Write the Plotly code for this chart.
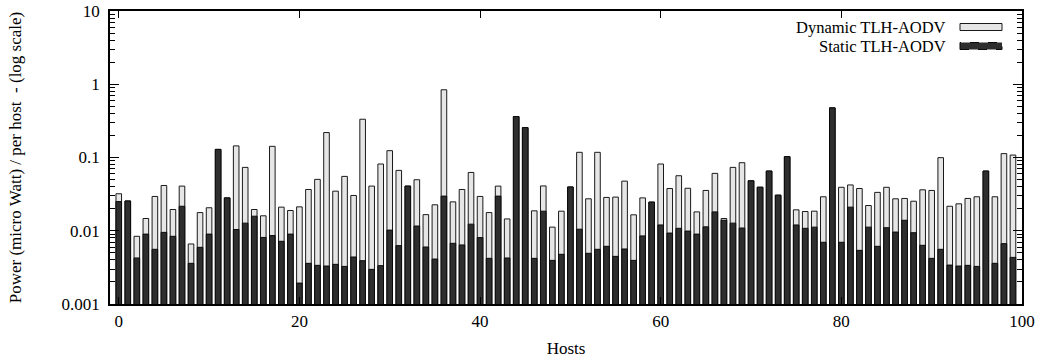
import plotly.graph_objects as go

# Per-host power draw (micro Watt), hosts 0..99
hosts = list(range(100))

dynamic_tlh = [
    0.032, 0.0255, 0.0084, 0.0147, 0.0294, 0.0415, 0.0195, 0.0407, 0.0066, 0.0177,
    0.0206, 0.129, 0.0281, 0.144, 0.0733, 0.0195, 0.0160, 0.142, 0.0210, 0.0189,
    0.0212, 0.0366, 0.0503, 0.219, 0.0347, 0.0552, 0.0303, 0.333, 0.0407, 0.0815,
    0.124, 0.0667, 0.0407, 0.0497, 0.0166, 0.0226, 0.841, 0.0248, 0.0366, 0.0625,
    0.0294, 0.0177, 0.0407, 0.0145, 0.362, 0.256, 0.0187, 0.0409, 0.0112, 0.0185,
    0.0396, 0.1177, 0.0273, 0.1177, 0.0285, 0.0288, 0.0476, 0.0165, 0.0281, 0.0246,
    0.0815, 0.0377, 0.0564, 0.038, 0.0181, 0.0355, 0.0607, 0.0147, 0.0733, 0.0849,
    0.0481, 0.0393, 0.0653, 0.0306, 0.1027, 0.0193, 0.0183, 0.0185, 0.0291, 0.476,
    0.0392, 0.0422, 0.0377, 0.0221, 0.0334, 0.0392, 0.0273, 0.0276, 0.0253, 0.0362,
    0.0355, 0.0995, 0.0216, 0.0233, 0.0276, 0.0291, 0.0653, 0.0291, 0.113, 0.108,
]

static_tlh = [
    0.025, 0.0255, 0.00425, 0.0090, 0.00558, 0.0095, 0.0084, 0.0216, 0.00359, 0.00594,
    0.0090, 0.129, 0.0281, 0.0104, 0.0127, 0.0158, 0.0081, 0.0086, 0.00718, 0.0090,
    0.00193, 0.00359, 0.00337, 0.0033, 0.00348, 0.00326, 0.00438, 0.0039, 0.00297, 0.00334,
    0.0102, 0.00626, 0.0407, 0.0116, 0.0060, 0.00411, 0.0297, 0.00674, 0.0064, 0.0123,
    0.00806, 0.0042, 0.0297, 0.00425, 0.362, 0.256, 0.0042, 0.0185, 0.00394, 0.00477,
    0.0396, 0.0105, 0.00492, 0.00558, 0.00613, 0.00447, 0.00564, 0.00394, 0.0085, 0.0246,
    0.0120, 0.0093, 0.0108, 0.0099, 0.0090, 0.0113, 0.0181, 0.0139, 0.0127, 0.0109,
    0.0481, 0.0393, 0.0653, 0.0306, 0.1027, 0.0120, 0.0108, 0.0112, 0.00696, 0.476,
    0.00696, 0.0210, 0.0054, 0.0112, 0.00613, 0.0110, 0.0096, 0.0139, 0.0094, 0.00633,
    0.0042, 0.00558, 0.0034, 0.0033, 0.00337, 0.00326, 0.0653, 0.00359, 0.00667, 0.00433,
]

x_ticks = [0, 20, 40, 60, 80, 100]
y_ticks = [0.001, 0.01, 0.1, 1, 10]
y_tick_text = ["0.001", "0.01", "0.1", "1", "10"]
y_minor = [m * d for d in (0.001, 0.01, 0.1, 1) for m in range(2, 10)]

series_names = ["Dynamic TLH-AODV", "Static TLH-AODV"]
dyn_fill, dyn_line = "#e6e6e6", "#1a1a1a"
sta_fill, sta_line = "#2e2e2e", "#0a0a0a"

FONT = "Liberation Serif, Times New Roman, serif"
FS = 17

fig = go.Figure()
fig.add_trace(go.Bar(
    x=hosts, y=dynamic_tlh, name=series_names[0], width=0.62,
    marker=dict(color=dyn_fill, line=dict(color=dyn_line, width=1)),
    showlegend=False,
))
fig.add_trace(go.Bar(
    x=hosts, y=static_tlh, name=series_names[1], width=0.62,
    marker=dict(color=sta_fill, line=dict(color=sta_line, width=1)),
    showlegend=False,
))

fig.update_layout(
    width=1045, height=358,
    margin=dict(l=110, r=23, t=11, b=54),
    paper_bgcolor="white", plot_bgcolor="white",
    barmode="overlay",
    font=dict(family=FONT, size=FS, color="black"),
    xaxis=dict(
        range=[-0.97, 100.0], automargin=False,
        tickvals=x_ticks, ticktext=[str(v) for v in x_ticks],
        ticks="inside", ticklen=7, tickwidth=1, tickcolor="black",
        showline=True, linecolor="black", linewidth=1.5, mirror="ticks",
        showgrid=False, zeroline=False,
        ticklabelstandoff=1,
        title=dict(text="Hosts", font=dict(size=FS), standoff=14),
    ),
    yaxis=dict(
        type="log", range=[-3, 1], automargin=False,
        tickvals=y_ticks, ticktext=y_tick_text,
        ticks="inside", ticklen=9, tickwidth=1, tickcolor="black",
        minor=dict(tickvals=y_minor, ticks="inside", ticklen=5,
                   tickwidth=1, tickcolor="black", showgrid=False),
        showline=True, linecolor="black", linewidth=1.5, mirror="ticks",
        showgrid=False, zeroline=False,
        ticklabelstandoff=5,
        title=dict(text="Power (micro Watt) / per host  - (log scale)",
                   font=dict(size=FS), standoff=36),
    ),
)

# Key in the upper right: right-aligned labels followed by sample boxes
key_rows = [(series_names[0], dyn_fill, dyn_line, "solid", 27),
            (series_names[1], sta_fill, sta_line, "dash", 46)]
top, bottom = 11, 304
ph = bottom - top
for label, fill, line, dash, ypx in key_rows:
    yp = (bottom - ypx) / ph
    fig.add_annotation(
        xref="paper", yref="paper", x=(947 - 110) / 912, y=yp,
        text=label, showarrow=False, xanchor="right", yanchor="middle",
        borderpad=0,
        font=dict(family=FONT, size=16.5, color="black"),
    )
    fig.add_shape(
        type="rect", xref="paper", yref="paper",
        x0=(960 - 110) / 912, x1=(1002 - 110) / 912,
        y0=yp - 3.5 / ph, y1=yp + 3.5 / ph,
        fillcolor=fill, line=dict(color=line, width=1, dash=dash),
    )

fig.write_html("out.html")
